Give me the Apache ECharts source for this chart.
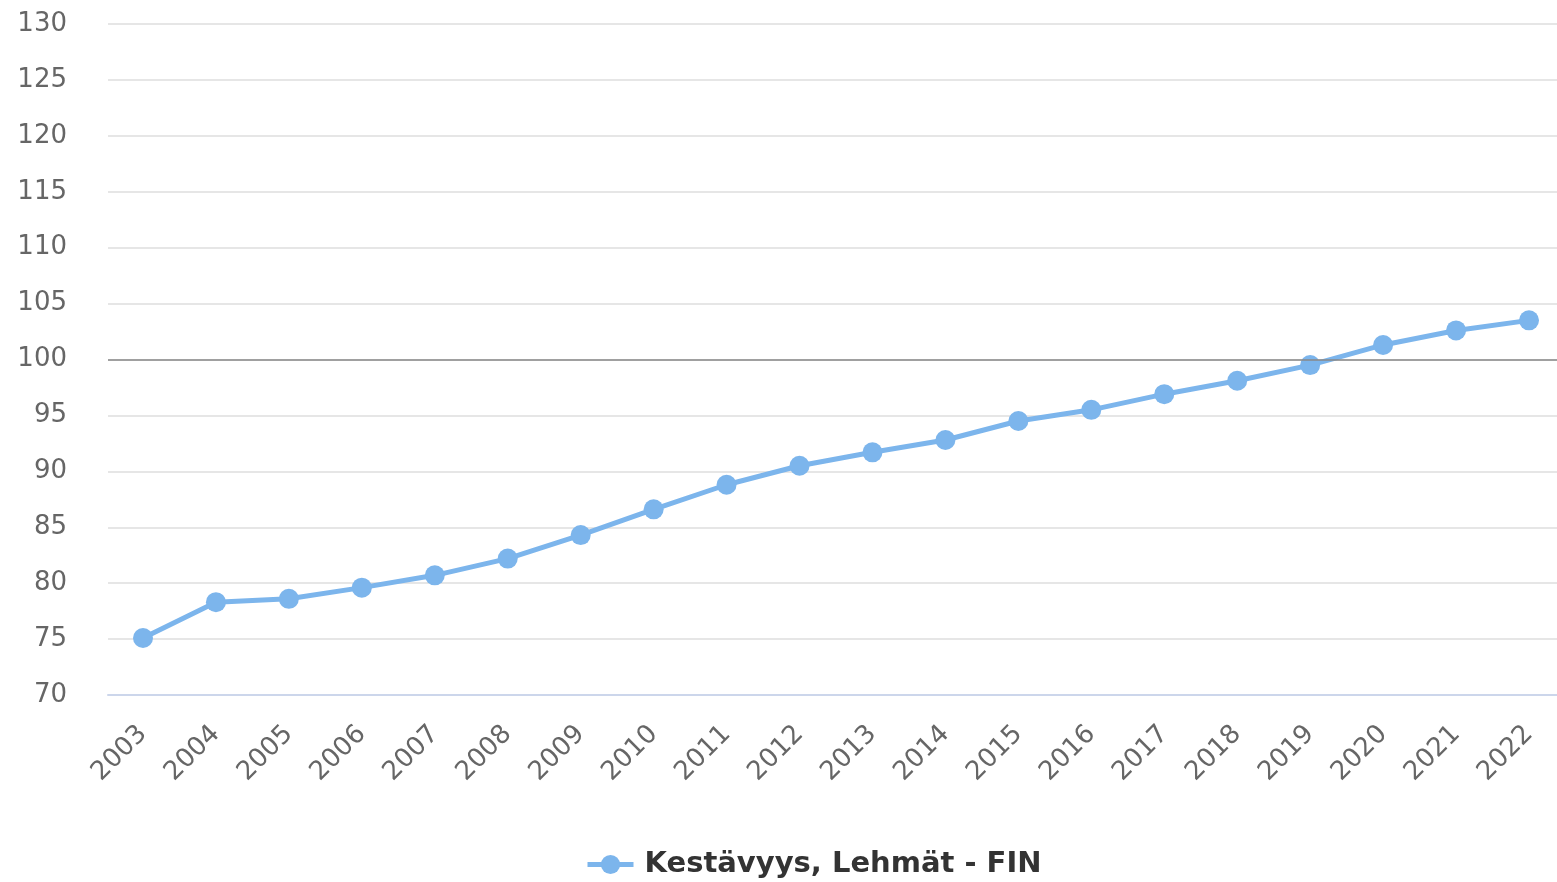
<!DOCTYPE html>
<html>
<head>
<meta charset="utf-8">
<script src="https://cdn.jsdelivr.net/npm/echarts@6/dist/echarts.min.js"></script>
<style>
  html, body { margin: 0; padding: 0; background: #fff; }
  #chart { width: 1557px; height: 882px; }
</style>
</head>
<body>
<div id="chart"></div>
<script>
// vuodet
const years = ['2003', '2004', '2005', '2006', '2007', '2008', '2009', '2010', '2011', '2012',
    '2013', '2014', '2015', '2016', '2017', '2018', '2019', '2020', '2021', '2022'];
// Kestävyys, Lehmät - FIN
const kestavyys = [75.1, 78.3, 78.6, 79.6, 80.7, 82.2, 84.3, 86.6, 88.8, 90.5,
    91.7, 92.8, 94.5, 95.5, 96.9, 98.1, 99.5, 101.3, 102.6, 103.5];
const seriesName = 'Kestävyys, Lehmät - FIN';
const refValue = 100;
const yMin = 70, yMax = 130, yStep = 5;

const font = 'DejaVu Sans';
const chart = echarts.init(document.querySelector('#chart'));
chart.setOption({
    color: ['#7cb5ec'],
    animation: false,
    // grid 0: taustaviivat, grid 1: data
    grid: [
        { left: 108, right: 0, top: 24, bottom: 187 },
        { left: 143, right: 28, top: 24, bottom: 187 },
    ],
    legend: {
        bottom: -2,
        left: 580,
        itemWidth: 46,
        itemHeight: 24,
        lineStyle: { width: 5 },
        textStyle: {
            fontFamily: font,
            fontSize: 29,
            fontWeight: 'bold',
            color: '#333',
            padding: [0, 0, 0, 6],
        },
        data: [seriesName],
    },
    xAxis: [
        {
            gridIndex: 0,
            type: 'category',
            data: years,
            axisTick: { show: false },
            axisLabel: { show: false },
            axisLine: {
                lineStyle: { color: '#ccd6eb', width: 2 }
            },
        },
        {
            gridIndex: 1,
            type: 'category',
            data: years,
            boundaryGap: false,
            axisTick: { show: false },
            axisLine: { show: false },
            axisLabel: {
                rotate: 45,
                margin: 35,
                fontFamily: font,
                fontSize: 26,
                color: '#666',
            },
        }
    ],
    yAxis: [
        {
            gridIndex: 0,
            type: 'value',
            min: yMin,
            max: yMax,
            interval: yStep,
            axisLine: { show: false },
            axisTick: { show: false },
            axisLabel: {
                margin: 41,
                fontFamily: font,
                fontSize: 26,
                color: '#666',
            },
            splitLine: {
                lineStyle: { color: '#e6e6e6', width: 2 }
            },
        },
        {
            gridIndex: 1,
            type: 'value',
            min: yMin,
            max: yMax,
            interval: yStep,
            show: false,
            splitLine: { show: false },
        }
    ],
    series: [
        {
            name: 'ref',
            type: 'line',
            xAxisIndex: 0,
            yAxisIndex: 0,
            data: [],
            markLine: {
                silent: true,
                symbol: 'none',
                label: { show: false },
                lineStyle: { color: '#888', width: 1.5, type: 'solid' },
                data: [{ yAxis: refValue }],
            },
        },
        {
            name: seriesName,
            type: 'line',
            xAxisIndex: 1,
            yAxisIndex: 1,
            data: kestavyys,
            symbol: 'circle',
            symbolSize: 20,
            lineStyle: { width: 5 },
        }
    ]
});
</script>
</body>
</html>
